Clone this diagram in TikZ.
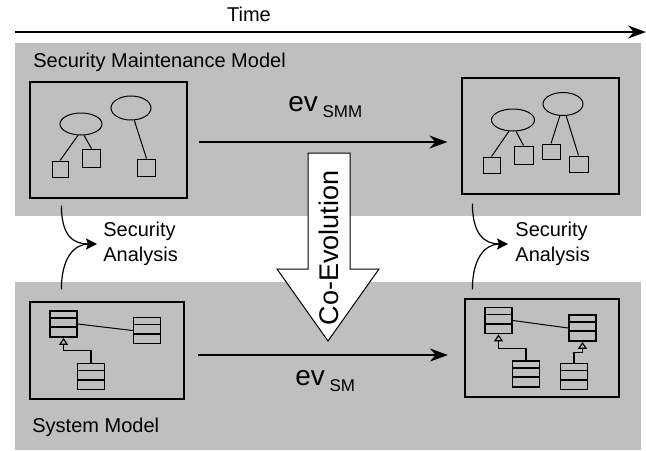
\documentclass[tikz,border=0pt]{standalone}
\usepackage{fontspec}
\setmainfont{Liberation Sans}
\usepackage{tikz}
\usetikzlibrary{positioning, arrows.meta, shapes.geometric, calc}
\usepackage{xcolor}
\definecolor{bandgray}{RGB}{191,191,191}

\begin{document}
\begin{tikzpicture}[
  x=0.5pt, y=-0.5pt,
  font=\fontsize{10}{12.5}\selectfont,
  frame/.style={draw, line width=0.6pt, inner sep=0pt, minimum width=78.5pt, minimum height=58pt},
  goal/.style={draw, ellipse, line width=0.5pt, inner sep=0pt, minimum width=21pt, minimum height=11pt},
  leaf/.style={draw, line width=0.5pt, inner sep=0pt, minimum size=9pt},
  cls/.style={draw, line width=0.9pt, inner sep=0pt, minimum width=13.5pt, minimum height=13pt,
    path picture={
      \draw[line width=0.9pt] ($(path picture bounding box.north west)!0.27!(path picture bounding box.south west)$)
        -- ($(path picture bounding box.north east)!0.27!(path picture bounding box.south east)$);
      \draw[line width=0.9pt] ($(path picture bounding box.north west)!0.62!(path picture bounding box.south west)$)
        -- ($(path picture bounding box.north east)!0.62!(path picture bounding box.south east)$);
    }},
  label/.style={inner sep=0pt},
  evo/.style={-{Stealth[length=9pt, width=6.5pt]}, line width=0.8pt},
  feed/.style={-{Stealth[length=5.5pt, width=5.5pt, inset=1pt]}, line width=0.6pt},
  inherit/.style={-{Triangle[open, length=3.5pt, width=4.5pt]}, line width=0.6pt}
]
\useasboundingbox (0,0) rectangle (646,450);

\fill[bandgray] (15,43) rectangle (641,216);
\fill[bandgray] (15,282) rectangle (641,450);

% time line
\coordinate (tStart) at (15,32);
\coordinate (tEnd) at (646,32);
\draw[evo] (tStart) -- (tEnd);
\node[label, anchor=base] (time) at (249,21) {Time};

\node[label, anchor=base west] (smmTitle) at (33,67) {Security Maintenance Model};
\node[label, anchor=base west] (smTitle) at (32,432) {System Model};

% security maintenance models
\node[frame] (smmA) at (108.5,140) {};
\node[frame] (smmB) at (540.5,136) {};

\node[goal] (gA1) at (81,124) {};
\node[goal, minimum width=20pt, minimum height=12pt] (gA2) at (131,108) {};
\node[leaf, minimum size=8pt] (lA1) at (60,169) {};
\node[leaf] (lA2) at (91.5,158) {};
\node[leaf, minimum height=8.5pt] (lA3) at (146.5,167.5) {};
\draw[line width=0.5pt] (gA1.-105) -- (lA1.north);
\draw[line width=0.5pt] (gA1.-75) -- (lA2.north);
\draw[line width=0.5pt] (gA2.-75) -- (lA3.north);

\node[goal, minimum width=21.5pt] (gB1) at (513,120) {};
\node[goal, minimum width=20pt, minimum height=11.5pt] (gB2) at (563,104) {};
\node[leaf, minimum width=8.5pt, minimum height=8pt] (lB1) at (491.5,165) {};
\node[leaf, minimum width=9.5pt] (lB2) at (523.5,155) {};
\node[leaf, minimum height=7.5pt] (lB3) at (551,151.5) {};
\node[leaf, minimum width=9.5pt, minimum height=8pt] (lB4) at (578.5,164) {};
\draw[line width=0.5pt] (gB1.-110) -- (lB1.north);
\draw[line width=0.5pt] (gB1.-75) -- (lB2.north);
\draw[line width=0.5pt] (gB2.-105) -- (lB3.north);
\draw[line width=0.5pt] (gB2.-75) -- (lB4.north);

% system models
\node[frame, minimum width=77pt, minimum height=48.5pt] (smA) at (107,350.5) {};
\node[frame, minimum width=77pt, minimum height=49pt] (smB) at (542,348) {};

\node[cls] (cA1) at (63.5,324) {};
\node[cls] (cA2) at (147,330.5) {};
\node[cls] (cA3) at (91,376.5) {};
\draw[line width=0.5pt] (cA1.east) -- (cA2.west);
\draw[inherit] (cA3.north) -- ++(0,-12) -| (cA1.south);

\node[cls] (cB1) at (498.5,320.5) {};
\node[cls] (cB2) at (582.5,328) {};
\node[cls] (cB3) at (526,374) {};
\node[cls] (cB4) at (574,376.5) {};
\draw[line width=0.5pt] (cB1.east) -- (cB2.west);
\draw[inherit] (cB3.north) -- ++(0,-12) -| (cB1.south);
\draw[inherit] (cB4.north) -- ++(0,-10) -| (cB2.south);

% evolution steps
\draw[evo, shorten <=5.5pt, shorten >=7pt] ([yshift=-1pt]smmA.east) -- ([yshift=-3pt]smmB.west);
\draw[evo, shorten <=6.75pt, shorten >=8.25pt] ([yshift=-2.25pt]smA.east) -- ([yshift=-3.5pt]smB.west);
\node[label, anchor=base west] (evSMM) at (288,111)
  {\fontsize{14}{16}\selectfont ev\,\raisebox{-3pt}{\fontsize{8.5}{10}\selectfont SMM}};
\node[label, anchor=base west] (evSM) at (295,385)
  {\fontsize{14}{16}\selectfont ev\,\raisebox{-3pt}{\fontsize{8.5}{10}\selectfont SM}};

\draw[line width=0.5pt, fill=white] (308,153) -- (350,153) -- (350,269) -- (379,269)
  -- (328,341) -- (277,269) -- (308,269) -- cycle;
\node[label, rotate=90, font=\fontsize{13.5}{16}\selectfont] (coevo) at (329,248) {Co-Evolution};

% security analysis
\node[anchor=west, align=left, inner sep=3pt] (secA) at (97,244) {Security\\Analysis};
\node[anchor=west, align=left, inner sep=3.5pt] (secB) at (508,244) {Security\\Analysis};

\draw[feed] ([xshift=16pt,yshift=-3.5pt]smmA.south west) .. controls +(0,30) and +(-24,0) .. (secA.west);
\draw[line width=0.6pt, shorten >=4pt] ([xshift=16pt,yshift=6pt]smA.north west) .. controls +(0,-30) and +(-24,0) .. (secA.west);
\draw[feed] ([xshift=5.5pt,yshift=-4.5pt]smmB.south west) .. controls +(0,30) and +(-24,0) .. (secB.west);
\draw[line width=0.6pt, shorten >=4pt] ([xshift=4pt,yshift=4.5pt]smB.north west) .. controls +(0,-30) and +(-24,0) .. (secB.west);
\end{tikzpicture}
\end{document}
